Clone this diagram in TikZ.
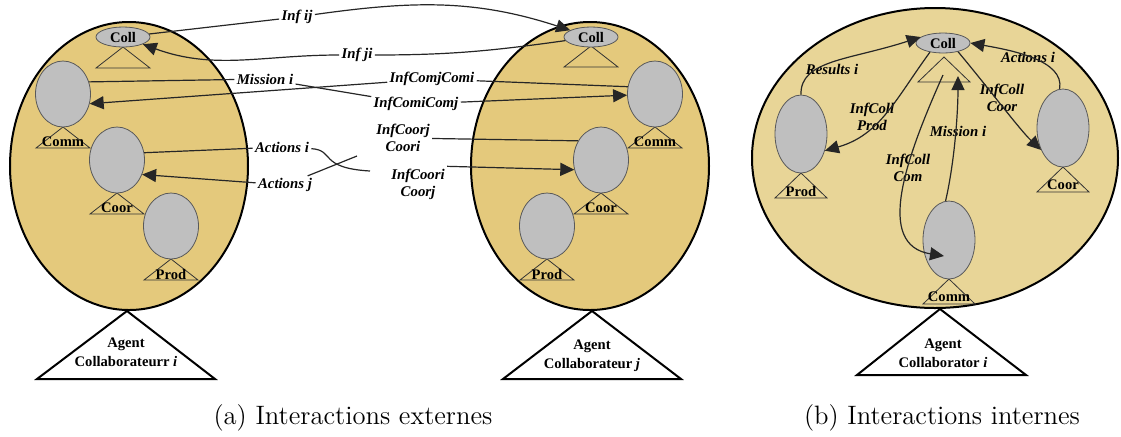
\documentclass[tikz,border=0pt]{standalone}
\usepackage{fontspec}
\newfontfamily\tnr{Liberation Serif}
\usetikzlibrary{shapes.geometric,arrows.meta}

\definecolor{fondA}{HTML}{E4C97C}
\definecolor{fondB}{HTML}{E8D597}

\tikzset{
  module/.style={ellipse, draw=black!65, fill=gray!50, minimum width=27.5pt, minimum height=33pt, inner sep=0pt},
  collmod/.style={ellipse, draw=black!65, fill=gray!50, minimum width=27pt, minimum height=10pt, inner sep=0pt,
    font=\tnr\fontsize{7.3}{8}\selectfont\bfseries},
  nom/.style={font=\tnr\fontsize{7.3}{9.5}\selectfont\bfseries, inner sep=0pt, align=center},
  etiq/.style={font=\tnr\fontsize{7.4}{8.5}\selectfont\bfseries\itshape, inner sep=1pt, align=center},
  lien/.style={draw=black!85, line width=0.6pt},
  fleche/.style={lien, -{Triangle[length=7pt,width=6.5pt]}},
}

\begin{document}
\begin{tikzpicture}[x=0.5pt,y=-0.5pt]
\useasboundingbox (0,0) rectangle (1121,436);

% Agents (fonds)
\draw[line width=1pt, fill=fondA] (129,166) ellipse [x radius=119, y radius=144];
\draw[line width=1pt, fill=fondA] (590,166) ellipse [x radius=119, y radius=144];
\draw[line width=1pt, fill=fondB] (935,158) ellipse [x radius=183, y radius=150];

\draw[line width=1pt] (127,311) -- (37,379) -- (215,379) -- cycle;
\draw[line width=1pt] (592,311) -- (503,379) -- (681,379) -- cycle;
\draw[line width=1pt] (940,309) -- (857,375) -- (1026,375) -- cycle;
\node[nom] (agI) at (126,352) {Agent\\Collaborateurr \textit{i}};
\node[nom] (agJ) at (592,356) {Agent\\Collaborateur \textit{j}};
\node[nom] (agC) at (943,353) {Agent\\Collaborator \textit{i}};

% petits triangles
\foreach \x/\y in {63/127, 117/193, 171/259, 655/127, 601/193, 547/259, 123/47, 591/46}
  \draw[black!80] (\x,\y) -- ++(-27,21) -- ++(54,0) -- cycle;
\foreach \x/\y in {801/173, 1063/167, 949/279, 944/57}
  \draw[black!80] (\x,\y) -- ++(-26,25) -- ++(52,0) -- cycle;

% modules (a)
\node[collmod] (collA) at (123,37) {Coll};
\node[module] (commA) at (63,94) {};
\node[module] (coorA) at (117,160) {};
\node[module] (prodA) at (171,226) {};
\node[nom] (tComA) at (63,142) {Comm};
\node[nom] (tCoorA) at (117,208) {Coor};
\node[nom] (tProdA) at (171,274) {Prod};

\node[collmod] (collB) at (591,37) {Coll};
\node[module] (commB) at (655,94) {};
\node[module] (coorB) at (601,160) {};
\node[module] (prodB) at (547,226) {};
\node[nom] (tComB) at (655,142) {Comm};
\node[nom] (tCoorB) at (601,208) {Coor};
\node[nom] (tProdB) at (547,274) {Prod};

% modules (b)
\node[collmod] (collC) at (943,43) {Coll};
\node[module, minimum width=26pt, minimum height=39pt] (prodC) at (801,134) {};
\node[module, minimum width=26pt, minimum height=39pt] (coorC) at (1063,128) {};
\node[module, minimum width=26pt, minimum height=39pt] (commC) at (949,240) {};
\node[nom] (tProdC) at (801,191) {Prod};
\node[nom] (tCoorC) at (1063,185) {Coor};
\node[nom] (tComC) at (949,297) {Comm};

% interactions externes
\node[etiq] (infij) at (297,17) {Inf ij};
\node[etiq] (infji) at (357,55) {Inf ji};
\node[etiq] (missA) at (265,79) {Mission i};
\node[etiq] (comjcomi) at (432,79) {InfComjComi};
\node[etiq] (comicomj) at (416,104) {InfComiComj};
\node[etiq] (actiA) at (282,147) {Actions i};
\node[etiq] (actjA) at (285,185) {Actions j};
\node[etiq] (coojcoo) at (403,138) {InfCoorj\\Coori};
\node[etiq] (cooicoo) at (418,184) {InfCoori\\Coorj};
\coordinate (finAct) at (370,171);
\coordinate (debAct) at (357,156);

\draw[fleche] (collA) -- (infij) to[out=8,in=162] (collB);
\draw[fleche] (collB) to[out=188,in=0] (infji) to[out=180,in=-20] (collA);
\draw[fleche] (commA.25) -- (missA) -- (comicomj) -- (commB);
\draw[fleche] (commB.165) -- (comjcomi) -- (commA.-20);
\draw[lien] (coorA.15) -- (actiA) .. controls (335,150) and (318,168) .. (finAct);
\draw[fleche] (cooicoo.north east) -- (coorB.200);
\draw[lien] (coorB.140) -- (coojcoo);
\draw[fleche] (debAct) -- (actjA) -- (coorA.-30);

% interactions internes
\node[etiq] (resC) at (832,69) {Results i};
\node[etiq] (icpC) at (872,117) {InfColl\\Prod};
\node[etiq] (missC) at (958,131) {Mission i};
\node[etiq] (iccC) at (908,168) {InfColl\\Com};
\node[etiq] (icoC) at (1002,98) {InfColl\\Coor};
\node[etiq] (actC) at (1028,57) {Actions i};
\coordinate (triC) at (943,75);
\coordinate (triM) at (958,76);
\coordinate (commIn) at (944,256);

\draw[fleche] (prodC.north) .. controls (800,60) and (850,60) .. (collC.165);
\draw[fleche] (collC.215) .. controls (895,100) and (880,135) .. (prodC.-35);
\draw[fleche] (triC) .. controls (905,160) and (875,245) .. (commIn);
\draw[fleche] (commC.95) .. controls (955,160) and (958,110) .. (triM);
\draw[fleche] (collC.-30) .. controls (990,90) and (1020,130) .. (coorC.225);
\draw[fleche] (coorC.95) .. controls (1065,60) and (1010,50) .. (collC.east);

% legendes
\node[font=\fontsize{13.3}{15}\selectfont] (capA) at (353,418) {(a) Interactions externes};
\node[font=\fontsize{13.3}{15}\selectfont] (capB) at (942,418) {(b) Interactions internes};
\end{tikzpicture}
\end{document}
